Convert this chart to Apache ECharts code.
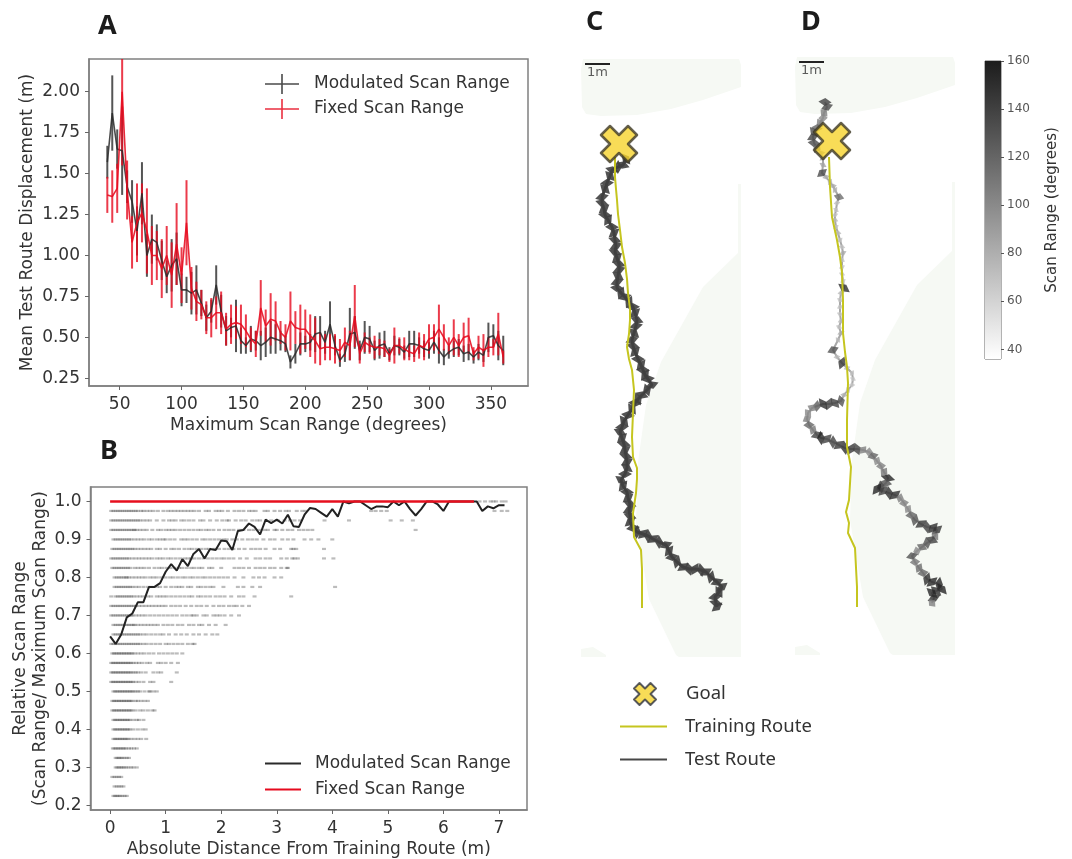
<!DOCTYPE html>
<html><head><meta charset="utf-8">
<style>html,body{margin:0;padding:0;background:#fff}#c{width:1072px;height:859px;filter:blur(0.45px)}</style>
<script src="https://cdn.jsdelivr.net/npm/echarts@6/dist/echarts.min.js"></script>
</head><body><div id="c"></div>
<script>
// Panel A: maximum scan range 40..360 in steps of 4 (81 rows of values)
const scanMax = [40,44,48,52,56,60,64,68,72,76,80,84,88,92,96,100,104,108,112,116,120,124,128,132,136,140,144,148,152,156,160,164,168,172,176,180,184,188,192,196,200,204,208,212,216,220,224,228,232,236,240,244,248,252,256,260,264,268,272,276,280,284,288,292,296,300,304,308,312,316,320,324,328,332,336,340,344,348,352,356,360];
const modMean = [1.57,1.87,1.65,1.64,1.42,1.33,1.15,1.38,1.00,1.10,1.08,0.97,0.87,0.94,0.98,0.79,0.79,0.77,0.79,0.71,0.62,0.66,0.82,0.66,0.54,0.56,0.57,0.48,0.45,0.49,0.48,0.45,0.47,0.50,0.49,0.48,0.46,0.35,0.40,0.46,0.46,0.47,0.52,0.53,0.47,0.58,0.45,0.36,0.40,0.52,0.53,0.42,0.50,0.49,0.42,0.45,0.46,0.40,0.45,0.44,0.41,0.46,0.46,0.45,0.43,0.42,0.47,0.42,0.38,0.41,0.43,0.44,0.40,0.41,0.38,0.41,0.39,0.50,0.51,0.45,0.42];
const modErr = [0.10,0.23,0.12,0.27,0.10,0.13,0.15,0.19,0.13,0.15,0.11,0.12,0.10,0.16,0.16,0.10,0.08,0.13,0.15,0.08,0.08,0.07,0.12,0.10,0.09,0.06,0.16,0.08,0.05,0.08,0.06,0.09,0.09,0.10,0.09,0.06,0.05,0.04,0.06,0.07,0.05,0.05,0.11,0.10,0.07,0.14,0.06,0.04,0.05,0.16,0.10,0.06,0.10,0.08,0.06,0.08,0.08,0.04,0.06,0.05,0.04,0.08,0.08,0.05,0.05,0.05,0.07,0.08,0.05,0.04,0.05,0.05,0.05,0.05,0.04,0.05,0.04,0.09,0.07,0.09,0.09];
const fixMean = [1.37,1.36,1.41,2.00,1.40,1.08,1.20,1.26,1.15,1.00,1.00,0.92,1.00,0.88,1.07,0.88,1.20,0.80,0.72,0.70,0.62,0.62,0.65,0.65,0.55,0.58,0.59,0.58,0.54,0.49,0.46,0.68,0.57,0.61,0.60,0.53,0.50,0.60,0.56,0.55,0.55,0.51,0.48,0.43,0.44,0.44,0.43,0.42,0.47,0.45,0.63,0.40,0.47,0.45,0.44,0.44,0.43,0.39,0.45,0.45,0.43,0.41,0.40,0.45,0.44,0.49,0.50,0.55,0.50,0.45,0.50,0.45,0.50,0.51,0.40,0.44,0.42,0.44,0.44,0.52,0.38];
const fixErr = [0.11,0.16,0.15,0.45,0.18,0.16,0.24,0.18,0.26,0.18,0.15,0.18,0.18,0.20,0.25,0.17,0.26,0.13,0.12,0.09,0.10,0.12,0.10,0.13,0.10,0.12,0.10,0.12,0.10,0.07,0.08,0.17,0.10,0.16,0.12,0.07,0.08,0.18,0.10,0.15,0.12,0.13,0.14,0.10,0.08,0.08,0.09,0.07,0.09,0.09,0.19,0.06,0.06,0.05,0.07,0.05,0.05,0.04,0.11,0.05,0.07,0.05,0.05,0.08,0.08,0.09,0.08,0.15,0.08,0.05,0.11,0.07,0.09,0.11,0.04,0.07,0.10,0.06,0.05,0.13,0.04];
const ticksAX = [50,100,150,200,250,300,350];
const ticksAY = [0.25,0.5,0.75,1,1.25,1.5,1.75,2];

// Panel B: binned mean of relative scan range against distance (0..7.1 m in 0.1 m bins)
const distBins = [0,0.1,0.2,0.3,0.4,0.5,0.6,0.7,0.8,0.9,1,1.1,1.2,1.3,1.4,1.5,1.6,1.7,1.8,1.9,2,2.1,2.2,2.3,2.4,2.5,2.6,2.7,2.8,2.9,3,3.1,3.2,3.3,3.4,3.5,3.6,3.7,3.8,3.9,4,4.1,4.2,4.3,4.4,4.5,4.6,4.7,4.8,4.9,5,5.1,5.2,5.3,5.4,5.5,5.6,5.7,5.8,5.9,6,6.1,6.2,6.3,6.4,6.5,6.6,6.7,6.8,6.9,7,7.1];
const relMean = [0.645,0.625,0.65,0.695,0.705,0.735,0.735,0.775,0.775,0.785,0.815,0.835,0.818,0.848,0.83,0.862,0.875,0.85,0.875,0.872,0.897,0.895,0.872,0.922,0.925,0.942,0.933,0.913,0.952,0.943,0.952,0.942,0.965,0.935,0.933,0.965,0.983,0.98,0.97,0.96,0.98,0.96,1,0.995,1,1,0.99,0.98,0.987,0.987,0.985,1,0.99,1,0.98,0.963,0.98,1,1,0.992,0.975,1,1,1,1,1,1,0.975,0.987,0.982,0.99,0.99];
const fixedDist = [0,6.55];
const fixedRel = [1,1];
const ticksBX = [0,1,2,3,4,5,6,7];
const ticksBY = [0.2,0.3,0.4,0.5,0.6,0.7,0.8,0.9,1];
const scanLevels = [1,0.975,0.95,0.925,0.9,0.875,0.85,0.825,0.8,0.775,0.75,0.725,0.7,0.675,0.65,0.625,0.6,0.575,0.55,0.525,0.5,0.475,0.45,0.425,0.4,0.375,0.35,0.325,0.3,0.275,0.25,0.225];
// distances in cm of the faint samples on each level
const levelDistCm = [
[665,675,685,690,695,705,712],
[2,6,10,14,18,22,26,30,34,38,42,46,50,56,60,66,72,78,86,96,104,110,116,122,128,134,140,146,152,160,172,178,190,196,202,212,224,232,240,250,256,262,278,284,296,306,316,322,336,346,352,470,478,488,498,692,705,715],
[2,6,10,14,18,22,26,30,34,38,42,46,50,54,60,66,72,84,96,106,112,118,128,134,142,150,162,168,180,192,202,210,214,226,236,244,256,264,270,290,302,314,324,332,342,386,430,505,525,545],
[2,6,10,14,18,22,26,30,34,38,42,44,48,54,60,66,76,86,92,100,106,112,118,126,134,142,150,158,164,172,178,186,196,206,214,222,232,240,250,258,268,278,284,296,300,310,320,328,340,348,356,364,550],
[6,10,14,18,22,26,30,34,38,44,50,56,62,70,76,84,90,96,100,108,116,128,134,140,148,156,166,172,180,188,196,204,210,220,228,238,248,256,264,276,288,296,310,320,330,350,362,375,400],
[4,8,12,16,20,24,28,32,36,40,44,50,56,62,68,74,84,90,100,110,116,124,134,142,148,156,164,172,178,188,196,206,214,222,232,242,254,262,270,280,296,306,326,330,335,385],
[2,6,10,14,18,22,26,30,34,40,46,52,58,64,70,76,84,90,96,104,110,118,126,134,140,146,152,160,168,176,184,192,200,206,214,222,234,246,262,270,280,288,308,318,328,332,338,385,402],
[4,8,12,16,20,24,28,32,36,44,50,56,62,70,80,88,94,102,108,116,124,130,138,146,152,160,166,178,184,200,224,232,240,250,262,270,278,288,296,308,318,320],
[8,12,16,20,24,28,30,34,40,46,52,58,64,72,78,84,92,100,108,114,122,130,136,144,150,158,166,172,180,188,196,204,212,224,240,258,268,278,296,308],
[8,12,16,20,24,28,32,36,40,46,52,60,68,74,84,90,100,110,118,124,130,140,146,158,164,172,180,186,204,230,240,256,270,405],
[2,10,14,18,22,26,30,34,38,42,48,54,60,68,74,84,90,96,102,110,118,126,134,142,148,158,164,172,180,190,198,206,218,232,240,260,326],
[2,6,10,14,18,22,26,30,34,38,42,46,52,58,64,70,76,82,88,94,100,110,118,126,136,146,156,164,174,186,196,204,214,222,228,238,250],
[2,6,10,14,18,22,26,30,34,38,40,46,52,58,64,72,80,88,96,104,112,120,130,138,146,150,156,168,174,186,192,198,206,218,232],
[6,10,14,18,22,26,30,34,38,42,44,50,56,62,68,74,80,86,96,104,112,122,130,142,150,160,166,178,190,208],
[6,10,14,18,22,26,30,34,38,42,46,50,54,60,66,74,82,90,96,106,118,128,138,150,160,172,184,193],
[2,6,10,14,18,22,26,30,34,38,42,46,50,54,60,66,74,82,90,100,106,114,122,130,140,148,152],
[4,7,10,13,16,19,22,25,28,31,34,37,40,44,50,56,62,70,78,88,96,104,112,120,130],
[2,5,8,11,14,17,20,23,26,29,32,35,38,42,47,52,58,66,72,86,92,100,110,122],
[2,5,8,11,14,17,20,23,26,29,32,35,38,42,46,50,56,64,78,86,92,120],
[2,5,8,11,14,17,20,23,26,29,32,35,38,41,46,52,60,72,78,110],
[6,9,12,15,18,21,24,27,30,33,36,39,42,46,50,54,62,70,72,78,84],
[4,7,10,13,16,19,22,25,28,31,34,37,40,46,50,56,62,68],
[4,7,10,13,16,19,22,25,28,31,34,37,40,46,54,60,68,76,80],
[6,9,12,15,18,21,24,27,30,33,36,42,48,52,60],
[6,9,12,15,18,21,24,27,30,33,36,42,50,58,64],
[6,9,12,15,18,21,24,27,30,33,38,44,50,56,65],
[5,8,11,14,17,20,23,26,29,34,38,43,48],
[10,13,16,19,22,26,30,34],
[10,13,16,19,22,25,29,33,38,42,48],
[4,8,12,16,20],
[8,12,16,20,24],
[6,9,12,15,18,22,26,30]
];

// Panels C and D: arena outline and routes in arena units, 25 units = 1 m
const arenaTop = [[2,0],[158,0],[160,6],[160,28],[122,41],[90,50],[56,56],[20,57],[5,55],[1,48],[0,10]];
const arenaSide = [[157,125],[160,125],[160,598],[98,598],[95,596],[68,540],[55,463],[57,403],[65,346],[80,303],[122,228],[157,194]];
const arenaCorner = [[0,590],[12,588],[25,596],[25,598],[0,598]];
const scaleBar = [[4,5],[29,5]];
const goalC = [38,85];
const goalD = [37,84];
const trainC = [[34,98],[34,118],[35,130],[36,141],[37,155],[39,171],[41,188],[44,204],[46,220],[47,234],[49,250],[49,261],[48,275],[46,288],[48,300],[51,311],[53,331],[52,354],[51,378],[52,398],[56,409],[56,420],[55,434],[52,454],[53,478],[60,491],[61,510],[61,528],[61,549]];
const trainD = [[34,100],[35,130],[36,145],[37,160],[42,183],[45,200],[47,216],[48,243],[48,276],[50,295],[52,310],[53,326],[52,363],[52,390],[56,410],[54,443],[51,455],[54,466],[53,476],[60,491],[62,530],[62,550]];
const testCx = [45,42,37,31,29,26,24,21,21,23,24,27,31,33,34,35,34,36,38,38,37,36,36,40,44,48,52,54,56,55,53,51,52,54,57,60,62,64,67,71,66,61,57,54,51,47,43,41,39,41,43,44,45,46,46,44,40,42,46,47,49,48,49,49,52,56,62,67,72,78,85,88,91,96,102,108,114,120,125,130,136,141,138,134,135,136];
const testCy = [100,106,108,111,117,124,130,138,144,150,156,161,168,174,181,187,193,199,205,211,217,223,229,234,238,243,248,254,261,267,274,281,287,293,300,306,311,316,320,326,331,336,340,344,350,356,362,368,373,379,385,391,397,403,409,415,421,427,433,439,445,451,457,463,469,473,475,477,480,483,486,492,498,503,508,510,510,511,513,518,523,528,533,538,544,548];
const testDx = [30,32,29,28,25,22,19,18,19,22,26,28,28,27,31,35,38,40,44,42,41,40,40,41,43,45,47,48,47,47,47,48,49,46,45,45,45,46,44,46,43,38,42,47,52,57,58,57,53,49,46,40,34,28,22,17,13,12,14,18,22,26,32,38,44,50,56,62,68,74,78,82,86,89,93,91,86,82,88,94,100,105,109,113,116,120,126,132,138,142,140,137,132,127,122,117,120,124,128,132,137,144,147,141,137,139,137];
const testDy = [45,50,56,61,66,71,75,80,86,91,96,101,108,116,120,125,129,133,140,146,153,158,163,170,176,183,190,196,203,210,217,224,231,236,243,250,257,264,270,276,283,293,300,306,311,316,322,328,333,338,344,346,347,347,349,351,356,362,368,373,378,381,382,385,388,391,392,392,393,395,399,404,409,415,421,426,430,432,434,436,438,441,446,452,458,463,467,470,471,473,479,483,486,490,494,499,505,511,516,522,525,527,532,534,536,541,546];
const testDscan = [140,135,105,100,105,120,135,140,135,120,95,90,85,135,80,78,82,78,115,72,70,70,74,70,74,70,70,82,70,68,68,68,150,74,70,70,70,74,70,82,74,130,74,145,74,70,68,68,70,78,130,140,140,150,125,105,100,105,120,110,140,155,140,140,145,150,145,140,105,100,120,100,105,110,155,130,140,155,140,150,150,105,105,100,120,130,145,140,150,145,110,140,130,120,100,130,110,115,120,150,155,155,155,150,155,150,105];
const colorbarTicks = [40,60,80,100,120,140,160];

const FONT = '"DejaVu Sans"';
const INK = '#333333';
const BLACK = '#2a2a2a';
const RED = '#e60a1e';
const YEL = '#c5c51f';
const X_PATH = 'path://M10 2L18 10L26 2L34 10L26 18L34 26L26 34L18 26L10 34L2 26L10 18L2 10Z';

function errorBars(xs, means, errs, color, ax){
  return {type:'custom', xAxisIndex:ax, yAxisIndex:ax, clip:true, silent:true,
    data: xs.map((x,i)=>[x,means[i],errs[i]]), encode:{x:0,y:1},
    renderItem(p,api){
      const a=api.coord([api.value(0),api.value(1)-api.value(2)]), b=api.coord([api.value(0),api.value(1)+api.value(2)]);
      return {type:'line',shape:{x1:a[0],y1:a[1],x2:b[0],y2:b[1]},style:{stroke:color,lineWidth:2,opacity:0.8}};
    }};
}
function polygon(points, g){
  return {type:'custom', xAxisIndex:g, yAxisIndex:g, silent:true, z:1, data:points, encode:{x:0,y:1},
    renderItem(p,api){
      if(p.dataIndex) return null;
      return {type:'polygon',shape:{points:points.map(d=>api.coord(d))},style:{fill:'#f6f9f4'}};
    }};
}
function headingRotation(xs, ys){
  return (v,params)=>{
    const i=params.dataIndex, a=Math.max(i-1,0), b=Math.min(i+1,xs.length-1);
    const th=Math.atan2(xs[a]-xs[b], ys[b]-ys[a])*180/Math.PI;
    return -th+(i%2?26:-26);
  };
}
function arena(g, goal, train, testSeries){
  return [polygon(arenaTop,g),polygon(arenaSide,g),polygon(arenaCorner,g),
    {type:'line',xAxisIndex:g,yAxisIndex:g,data:scaleBar,symbol:'none',silent:true,z:5,lineStyle:{color:'#222',width:2}},
    {type:'scatter',xAxisIndex:g,yAxisIndex:g,data:[[16.5,14]],symbolSize:0,silent:true,z:5,
     label:{show:true,position:'inside',formatter:'1m',fontFamily:FONT,fontSize:13,color:'#333'}},
    ...testSeries,
    {type:'line',name:'Training Route',xAxisIndex:g,yAxisIndex:g,data:train,symbol:'none',silent:true,z:7,lineStyle:{color:YEL,width:2}},
    {type:'scatter',name:'Goal',xAxisIndex:g,yAxisIndex:g,data:[goal],symbol:X_PATH,symbolSize:36,silent:true,z:8,
      itemStyle:{color:'#f6d32d',borderColor:'#3d3826',borderWidth:2.5,borderJoin:'round'}}
  ];
}

const scatterData = [];
scanLevels.forEach((lv,i)=>levelDistCm[i].forEach(cm=>scatterData.push([cm/100,lv])));

const series = [
  errorBars(scanMax,modMean,modErr,BLACK,0),
  {type:'line',name:'Modulated Scan Range',xAxisIndex:0,yAxisIndex:0,data:scanMax.map((x,i)=>[x,modMean[i]]),symbol:'none',silent:true,lineStyle:{color:BLACK,width:1.6,opacity:0.85}},
  errorBars(scanMax,fixMean,fixErr,RED,0),
  {type:'line',name:'Fixed Scan Range',xAxisIndex:0,yAxisIndex:0,data:scanMax.map((x,i)=>[x,fixMean[i]]),symbol:'none',silent:true,lineStyle:{color:RED,width:1.6,opacity:0.88}},

  {type:'scatter',xAxisIndex:1,yAxisIndex:1,data:scatterData,symbol:'rect',symbolSize:[4,2.2],silent:true,itemStyle:{color:'#222',opacity:0.3}},
  {type:'line',name:'Modulated Scan Range',xAxisIndex:1,yAxisIndex:1,data:distBins.map((x,i)=>[x,relMean[i]]),symbol:'none',silent:true,z:4,lineStyle:{color:'#222',width:2}},
  {type:'line',name:'Fixed Scan Range',xAxisIndex:1,yAxisIndex:1,data:fixedDist.map((x,i)=>[x,fixedRel[i]]),symbol:'none',silent:true,z:5,lineStyle:{color:'#e60f1e',width:2.5}},

  ...arena(2,goalC,trainC,[
    {type:'line',xAxisIndex:2,yAxisIndex:2,z:5,silent:true,data:testCx.map((x,i)=>[x,testCy[i]]),symbol:'none',lineStyle:{color:'#3c3c3c',width:3}},
    {type:'scatter',name:'Test Route',xAxisIndex:2,yAxisIndex:2,z:6,silent:true,data:testCx.map((x,i)=>[x,testCy[i]]),
      symbol:'diamond',symbolSize:[14,8],symbolRotate:headingRotation(testCx,testCy),itemStyle:{color:'#404040',opacity:0.9}}
  ]),
  ...arena(3,goalD,trainD,[
    {type:'line',xAxisIndex:3,yAxisIndex:3,z:5,silent:true,data:testDx.map((x,i)=>[x,testDy[i]]),symbol:'none',lineStyle:{color:'#a8a8a8',width:2}},
    {id:'testD',type:'scatter',name:'Test Route',xAxisIndex:3,yAxisIndex:3,z:6,silent:true,data:testDx.map((x,i)=>[x,testDy[i],testDscan[i]]),
      symbol:'diamond',symbolSize:v=>[v[2]*0.095,v[2]>=100?8:5],symbolRotate:headingRotation(testDx,testDy)}
  ]),
  {type:'bar',xAxisIndex:4,yAxisIndex:4,data:[160],barWidth:'100%',silent:true,
    itemStyle:{color:new echarts.graphic.LinearGradient(0,0,0,1,[{offset:0,color:'#1c1c1c'},{offset:1,color:'#ffffff'}])}}
];
const testDIndex = series.findIndex(s=>s.id==='testD');

const axisCommon = {
  axisLine:{show:true,onZero:false,lineStyle:{color:'#808080',width:1.5}},
  axisTick:{show:true,length:4,lineStyle:{color:'#666',width:1}},
  splitLine:{show:false},
  nameTextStyle:{fontFamily:FONT,fontSize:17,color:INK},
  nameLocation:'middle'
};
const tickLbl = {fontFamily:FONT,fontSize:17,color:INK,margin:10};
const hidden = {show:false};
const legendText = {fontFamily:FONT,fontSize:17,color:INK,padding:[0,0,0,9]};
const lowerText = {fontFamily:'"Noto Sans"',fontSize:18.5,color:INK,padding:[0,0,0,13]};

const chart = echarts.init(document.getElementById('c'),null,{renderer:'canvas'});
chart.setOption({
  animation:false, backgroundColor:'#fff',
  grid:[
    {left:89,top:59,width:439,height:327,show:true,borderColor:'#808080',borderWidth:1.5},
    {left:90.5,top:487,width:436.5,height:325,show:true,borderColor:'#808080',borderWidth:1.5},
    {left:581,top:59,width:160,height:598},
    {left:795,top:57,width:160,height:598},
    {left:985,top:61,width:16,height:298,show:true,borderColor:'#666',borderWidth:1}
  ],
  xAxis:[
    {...axisCommon,type:'value',gridIndex:0,min:25.2,max:380,name:'Maximum Scan Range (degrees)',nameGap:31,
      axisTick:{...axisCommon.axisTick,customValues:ticksAX},axisLabel:{...tickLbl,customValues:ticksAX}},
    {...axisCommon,type:'value',gridIndex:1,min:-0.353,max:7.505,name:'Absolute Distance From Training Route (m)',nameGap:31,
      axisTick:{...axisCommon.axisTick,customValues:ticksBX},axisLabel:{...tickLbl,customValues:ticksBX}},
    {type:'value',gridIndex:2,min:0,max:160,...hidden},
    {type:'value',gridIndex:3,min:0,max:160,...hidden},
    {type:'category',gridIndex:4,data:['scan'],...hidden}
  ],
  yAxis:[
    {...axisCommon,type:'value',gridIndex:0,min:0.203,max:2.2,name:'Mean Test Route Displacement (m)',nameGap:53,
      axisTick:{...axisCommon.axisTick,customValues:ticksAY},
      axisLabel:{...tickLbl,margin:9,customValues:ticksAY,formatter:v=>v.toFixed(2)}},
    {...axisCommon,type:'value',gridIndex:1,min:0.188,max:1.038,name:'Relative Scan Range\n(Scan Range/ Maximum Scan Range)',nameGap:37.5,
      nameTextStyle:{...axisCommon.nameTextStyle,lineHeight:20},
      axisTick:{...axisCommon.axisTick,customValues:ticksBY},
      axisLabel:{...tickLbl,margin:9,customValues:ticksBY,formatter:v=>v.toFixed(1)}},
    {type:'value',gridIndex:2,min:0,max:598,inverse:true,...hidden},
    {type:'value',gridIndex:3,min:0,max:598,inverse:true,...hidden},
    {type:'value',gridIndex:4,min:36,max:160,position:'right',name:'Scan Range (degrees)',nameLocation:'middle',nameRotate:90,nameGap:44,
      nameTextStyle:{fontFamily:FONT,fontSize:15,color:INK},
      axisLine:{show:false},splitLine:{show:false},
      axisTick:{show:true,length:3,lineStyle:{color:'#555'},customValues:colorbarTicks},
      axisLabel:{fontFamily:FONT,fontSize:12,color:'#555',margin:6,customValues:colorbarTicks}}
  ],
  visualMap:[{type:'continuous',show:false,min:36,max:160,dimension:2,seriesIndex:testDIndex,inRange:{color:['#ffffff','#1c1c1c']}}],
  legend:[
    {left:260,top:69,orient:'vertical',itemWidth:36,itemHeight:20,itemGap:5,selectedMode:false,textStyle:legendText,
      data:[
        {name:'Modulated Scan Range',icon:'path://M0 9.2H34V10.8H0ZM16.2 0H17.8V20H16.2Z',itemStyle:{color:BLACK,opacity:0.85}},
        {name:'Fixed Scan Range',icon:'path://M0 9.2H34V10.8H0ZM16.2 0H17.8V20H16.2Z',itemStyle:{color:RED,opacity:0.85}}
      ]},
    {left:260,top:750,orient:'vertical',itemWidth:36,itemHeight:20,itemGap:9,selectedMode:false,textStyle:legendText,
      data:[
        {name:'Modulated Scan Range',icon:'path://M0 0H34V2H0Z',itemStyle:{color:BLACK}},
        {name:'Fixed Scan Range',icon:'path://M0 0H34V2H0Z',itemStyle:{color:RED}}
      ]},
    {left:628,top:677,orient:'vertical',itemWidth:22,itemHeight:22,selectedMode:false,
      textStyle:{fontFamily:'"Noto Sans"',fontSize:18.5,color:INK,padding:[0,0,0,25]},
      data:[{name:'Goal',icon:X_PATH,itemStyle:{color:'#f6d32d',borderColor:'#2f3340',borderWidth:2}}]},
    {left:615,top:712,orient:'vertical',itemWidth:47,itemHeight:22,selectedMode:false,textStyle:lowerText,
      data:[{name:'Training Route',icon:'path://M0 0H47V2H0Z',itemStyle:{color:YEL,borderWidth:0}}]},
    {left:615,top:745,orient:'vertical',itemWidth:47,itemHeight:22,selectedMode:false,textStyle:lowerText,
      data:[{name:'Test Route',icon:'path://M0 0H47V2H0Z',itemStyle:{color:'#333',borderWidth:0}}]}
  ],
  graphic:[
    ['A',98,13],['B',100,438],['C',586,9],['D',801,9]
  ].map(([t,x,y])=>({type:'text',left:x,top:y,silent:true,style:{text:t,fontFamily:'"Noto Sans"',fontWeight:'bold',fontSize:27,fill:'#1c1c1c'}})),
  series
});
</script></body></html>
